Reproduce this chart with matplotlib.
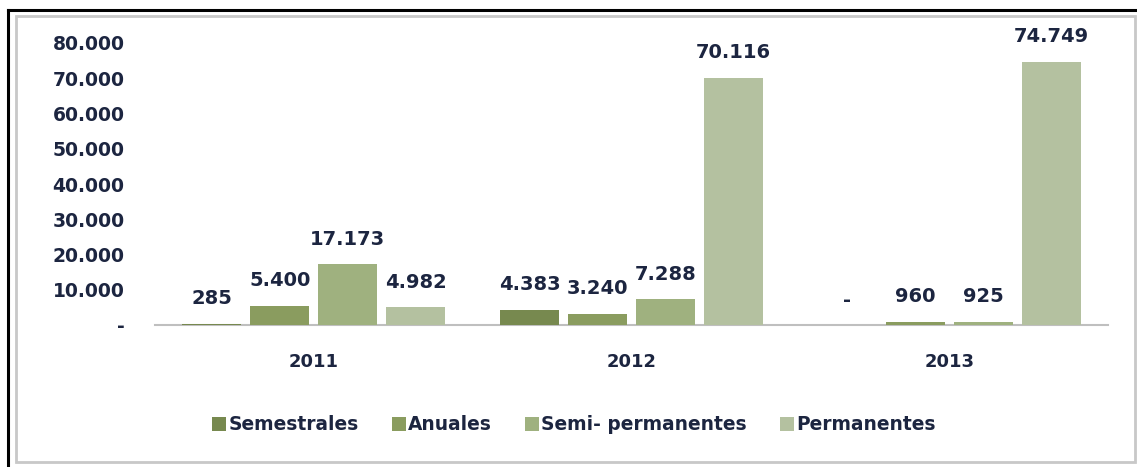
import numpy as np
import matplotlib.pyplot as plt
from matplotlib.patches import Rectangle
from matplotlib.lines import Line2D
from matplotlib.ticker import FuncFormatter

years = ["2011", "2012", "2013"]
series = ["Semestrales", "Anuales", "Semi- permanentes", "Permanentes"]
semestrales = [285, 4383, 0]
anuales = [5400, 3240, 960]
semi_permanentes = [17173, 7288, 925]
permanentes = [4982, 70116, 74749]

colors = ["#77894f", "#8a9c5f", "#9fb17f", "#b4c1a0"]
text_color = "#1c2540"


def fmt(v, pos=None):
    if v == 0:
        return "-"
    return f"{int(round(v)):,}".replace(",", ".")


fig = plt.figure(figsize=(11.37, 4.67), dpi=100)
ax = fig.add_axes([155 / 1137, 1 - 325 / 467, 953 / 1137, 282 / 467])

# frame of the picture: black top/left, grey inner box
fig.add_artist(Line2D([8 / 1137, 1], [1 - 10 / 467] * 2, color="black", lw=2.2,
                      transform=fig.transFigure))
fig.add_artist(Line2D([8 / 1137] * 2, [0, 1 - 10 / 467], color="black", lw=2.2,
                      transform=fig.transFigure))
fig.add_artist(Rectangle((16 / 1137, 1 - 462 / 467), (1135 - 16) / 1137, (462 - 16) / 467,
                         fill=False, edgecolor="#c8c8c8", lw=2, transform=fig.transFigure))

x = np.arange(len(years))
pitch = 0.214
width = 0.186
data = [semestrales, anuales, semi_permanentes, permanentes]
for i, (name, vals) in enumerate(zip(series, data)):
    pos = x + (i - 1.5) * pitch
    bars = ax.bar(pos, vals, width, color=colors[i], label=name, zorder=3)
    for b, v in zip(bars, vals):
        ax.annotate(fmt(v), (b.get_x() + b.get_width() / 2, v), xytext=(0, 18),
                    textcoords="offset points", ha="center", va="center",
                    fontsize=14, fontweight="bold", color=text_color)

ax.set_xlim(-0.5, 2.5)
ax.set_ylim(0, 80000)
ax.set_yticks(np.arange(0, 80001, 10000))
ax.yaxis.set_major_formatter(FuncFormatter(fmt))
ax.set_xticks(x)
ax.set_xticklabels(years)
for s in ["top", "right", "left"]:
    ax.spines[s].set_visible(False)
ax.spines["bottom"].set_color("#bfbfbf")
ax.spines["bottom"].set_linewidth(1.5)
ax.tick_params(axis="y", length=0, pad=22, labelsize=13.5, labelcolor=text_color)
ax.tick_params(axis="x", length=0, pad=20, labelsize=13, labelcolor=text_color)
for lab in ax.get_xticklabels() + ax.get_yticklabels():
    lab.set_fontweight("bold")

leg = fig.legend(loc="center", bbox_to_anchor=(574 / 1137, 1 - 425 / 467), ncol=4, frameon=False,
                 handlelength=0.75, handleheight=0.75, handletextpad=0.1, columnspacing=1.8,
                 prop={"weight": "bold", "size": 13.4})
for t in leg.get_texts():
    t.set_color(text_color)

fig.savefig("out.png", dpi=100)
